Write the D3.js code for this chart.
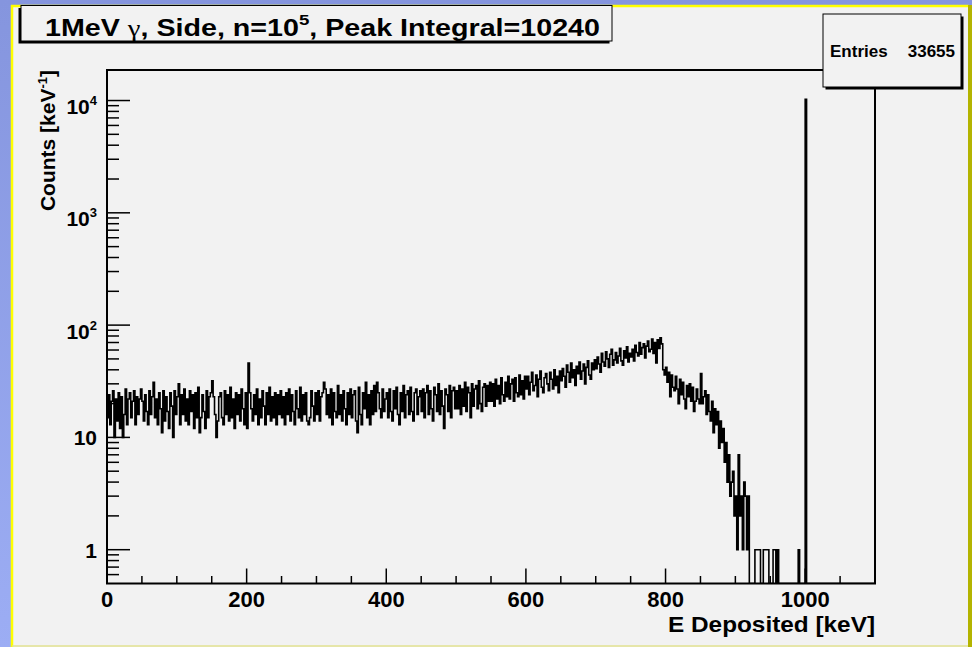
<!DOCTYPE html>
<html><head><meta charset="utf-8">
<script src="https://cdn.jsdelivr.net/npm/d3@7"></script>
<style>
body{margin:0;background:#8f9fe6;}
svg{display:block;}
text{font-family:"Liberation Sans",Arial,Helvetica,sans-serif;font-weight:bold;fill:#000;}
</style>
</head><body>
<svg id="c" width="972" height="647"></svg>
<script>
// ---------------- data ----------------
const binWidth = 2;      // keV per bin
const binStart = 0;      // keV
// counts per keV, one value per 2-keV bin, 0 .. 1100 keV (rows of 50 keV)
const counts = [
 15,24,13,21,26,10,22,14,25,12,23,10,16,27,13,22,25,15,21,26,13,23,16,22,27,
 21,14,24,17,13,26,16,23,31,15,22,13,25,18,11,26,14,23,17,12,25,19,10,26,16,
 23,30,13,24,16,27,14,22,13,26,17,24,12,25,15,28,11,15,24,17,12,26,15,23,25,
 32,23,16,10,14,23,25,15,13,26,16,24,14,28,15,22,12,25,16,24,14,27,18,13,25,
 12,46,25,18,14,24,16,27,13,22,15,26,19,13,25,16,28,14,23,15,25,13,24,16,26,
 15,23,13,25,16,27,14,24,17,13,26,18,15,28,14,24,16,25,14,13,15,26,19,14,25,
 16,26,14,23,25,31,27,16,24,15,27,13,25,17,15,29,16,24,14,26,18,13,25,16,27,
 15,24,26,14,11,28,16,13,25,18,31,15,24,13,26,16,29,17,31,25,18,15,27,17,22,
 25,15,27,17,14,26,18,28,16,13,25,17,29,15,24,26,16,28,17,14,25,27,16,23,26,
 17,27,15,25,29,16,26,18,14,28,24,17,30,16,26,19,12,27,24,17,29,15,26,28,18,
 26,18,29,16,27,19,31,17,28,25,15,30,19,27,29,18,32,20,17,28,30,19,29,21,31,
 21,30,19,33,22,29,20,34,24,21,31,23,35,22,30,33,21,34,25,23,36,24,32,22,35,
 27,35,24,31,38,26,29,36,23,33,39,28,25,34,37,30,26,38,33,27,40,29,35,25,39,
 32,41,35,28,44,38,31,46,34,40,29,43,37,47,33,39,45,30,42,48,36,33,46,40,49,
 41,52,45,38,56,47,43,58,50,42,55,61,44,49,57,46,53,62,48,44,59,51,64,47,56,
 52,61,48,66,57,53,70,55,63,68,51,65,72,58,61,75,56,70,46,74,62,77,68,40,36,
 42,31,38,23,36,28,26,35,27,20,33,24,31,22,18,29,23,30,21,28,17,21,27,22,20,
 37,20,23,26,16,24,17,14,21,11,18,13,17,8,14,9,12,6,9,4,7,3,4,5,2,
 3,1,7,2,3,1,4,3,1,3,0,0,0,0,1,1,1,1,0,0,1,1,1,1,0,
 0,0,1,1,0,1,0,0,0,0,0,0,0,0,0,0,0,0,0,0,1,0,0,0,0,
 10240,0,0,0,0,0,0,0,0,0,0,0,0,0,0,0,0,0,0,0,0,0,0,0,0,
 0,0,0,0,0,0,0,0,0,0,0,0,0,0,0,0,0,0,0,0,0,0,0,0,0
];
const xDomain = [0, 1100];
const yDomain = [0.5, 18700];
const xMajorTicks = [0, 200, 400, 600, 800, 1000];
const xMinorStep = 50;
const yMajorTicks = [1, 10, 100, 1000, 10000];
const yTickBase = ["1", "10", "10", "10", "10"];
const yTickExp  = ["",  "",   "2",  "3",  "4"];
const titlePre = "1MeV ";
const titleGreek = "\u03b3";
const titleMid = ", Side, n=10";
const titleSup = "5";
const titlePost = ", Peak Integral=10240";
const xTitle = "E Deposited [keV]";
const yTitleMain = "Counts [keV";
const yTitleSup = "-1";
const statsLabel = "Entries";
const statsValue = "33655";

// ---------------- drawing ----------------
const svg = d3.select("#c");
const W = 972, H = 647;
const defs = svg.append("defs");
const g1 = defs.append("linearGradient").attr("id","bg").attr("x1",0).attr("y1",0).attr("x2",0).attr("y2",1);
g1.append("stop").attr("offset","0%").attr("stop-color","#8595de");
g1.append("stop").attr("offset","100%").attr("stop-color","#9cadf4");
svg.append("rect").attr("width",W).attr("height",H).attr("fill","url(#bg)");

// canvas panel
svg.append("rect").attr("x",12).attr("y",6).attr("width",956).attr("height",641).attr("fill","#f2f2f2");
svg.append("line").attr("x1",12).attr("x2",12).attr("y1",5).attr("y2",647).attr("stroke","#ffff00").attr("stroke-width",2.5);
svg.append("line").attr("x1",11).attr("x2",969).attr("y1",6).attr("y2",6).attr("stroke","#ffff00").attr("stroke-width",2.5);
svg.append("line").attr("x1",970).attr("x2",970).attr("y1",5).attr("y2",647).attr("stroke","#b4b400").attr("stroke-width",4);
svg.append("line").attr("x1",12).attr("x2",968).attr("y1",646).attr("y2",646).attr("stroke","#e2e290").attr("stroke-width",1.5);

const L = 107, R = 875, T = 70, B = 583.5;
const x = d3.scaleLinear().domain(xDomain).range([L, R]);
const y = d3.scaleLog().domain(yDomain).range([B, T]);

// histogram
defs.append("clipPath").attr("id","clip").append("rect").attr("x",L).attr("y",T).attr("width",R-L).attr("height",B-T);
const pts = [];
counts.forEach((c, i) => {
  const e0 = binStart + i * binWidth;
  const yy = c > 0 ? y(c) : y(yDomain[0]);
  pts.push([x(e0), yy], [x(e0 + binWidth), yy]);
});
svg.append("path").attr("clip-path","url(#clip)")
  .attr("d", d3.line()(pts)).attr("fill","none").attr("stroke","#000").attr("stroke-width",1.6);

// frame
svg.append("rect").attr("x",L).attr("y",T).attr("width",R-L).attr("height",B-T)
  .attr("fill","none").attr("stroke","#000").attr("stroke-width",2);

// x ticks
const xMinor = d3.range(xDomain[0], xDomain[1] + 1, xMinorStep).filter(v => !xMajorTicks.includes(v) && v < xDomain[1]);
svg.selectAll(".xmin").data(xMinor).enter().append("line")
  .attr("x1", d => x(d)).attr("x2", d => x(d)).attr("y1", B).attr("y2", B - 7.5)
  .attr("stroke","#000").attr("stroke-width",1.5);
svg.selectAll(".xmaj").data(xMajorTicks).enter().append("line")
  .attr("x1", d => x(d)).attr("x2", d => x(d)).attr("y1", B).attr("y2", B - 15)
  .attr("stroke","#000").attr("stroke-width",1.5);
svg.selectAll(".xlab").data(xMajorTicks).enter().append("text")
  .attr("x", d => x(d)).attr("y", 607).attr("text-anchor","middle")
  .style("font-size","22px").text(d => d3.format("d")(d));

// y ticks
const yMinor = [];
for (let p = -1; p <= 4; p++) for (let k = 2; k <= 9; k++) {
  const v = k * Math.pow(10, p);
  if (v > yDomain[0] && v < yDomain[1]) yMinor.push(v);
}
svg.selectAll(".ymin").data(yMinor).enter().append("line")
  .attr("x1", L).attr("x2", L + 12).attr("y1", d => y(d)).attr("y2", d => y(d))
  .attr("stroke","#000").attr("stroke-width",1.5);
svg.selectAll(".ymaj").data(yMajorTicks).enter().append("line")
  .attr("x1", L).attr("x2", L + 23).attr("y1", d => y(d)).attr("y2", d => y(d))
  .attr("stroke","#000").attr("stroke-width",1.5);
yMajorTicks.forEach((v, i) => {
  const hasExp = yTickExp[i] !== "";
  const t = svg.append("text").attr("x", 97).attr("y", y(v) + (hasExp ? 13.5 : 8))
    .attr("text-anchor","end").style("font-size","21px");
  t.append("tspan").text(yTickBase[i]);
  if (hasExp) t.append("tspan").attr("dy",-9).style("font-size","13px").text(yTickExp[i]);
});

// axis titles
svg.append("text").attr("x", R).attr("y", 632).attr("text-anchor","end")
  .style("font-size","22px").attr("textLength",207).attr("lengthAdjust","spacingAndGlyphs").text(xTitle);
const yt = svg.append("text").attr("transform","translate(55,70) rotate(-90)")
  .attr("text-anchor","end").style("font-size","21px");
yt.append("tspan").text(yTitleMain);
yt.append("tspan").attr("dy",-8).style("font-size","13px").text(yTitleSup);
yt.append("tspan").attr("dy",8).text("]");

// title pave (shadow bottom-left)
svg.append("rect").attr("x",18.5).attr("y",8).attr("width",591).attr("height",35.5).attr("fill","#000");
svg.append("rect").attr("x",21).attr("y",5.5).attr("width",591).attr("height",35.5)
  .attr("fill","#f2f2f2").attr("stroke","#000").attr("stroke-width",1);
const tt = svg.append("text").attr("x",45).attr("y",36).style("font-size","23px")
  .attr("textLength",555).attr("lengthAdjust","spacingAndGlyphs");
tt.append("tspan").text(titlePre);
tt.append("tspan").style("font-family","'Liberation Serif','DejaVu Serif',serif").style("font-weight","normal").text(titleGreek);
tt.append("tspan").text(titleMid);
tt.append("tspan").attr("dy",-11).style("font-size","15px").text(titleSup);
tt.append("tspan").attr("dy",11).text(titlePost);

// stats pave (shadow bottom-right)
svg.append("rect").attr("x",825.5).attr("y",16.5).attr("width",138).attr("height",73).attr("fill","#000");
svg.append("rect").attr("x",823).attr("y",14).attr("width",138).attr("height",73)
  .attr("fill","#f2f2f2").attr("stroke","#000").attr("stroke-width",1);
svg.append("text").attr("x",830).attr("y",57).style("font-size","17px").text(statsLabel);
svg.append("text").attr("x",955).attr("y",57).attr("text-anchor","end").style("font-size","17px").text(statsValue);
</script>
</body></html>
